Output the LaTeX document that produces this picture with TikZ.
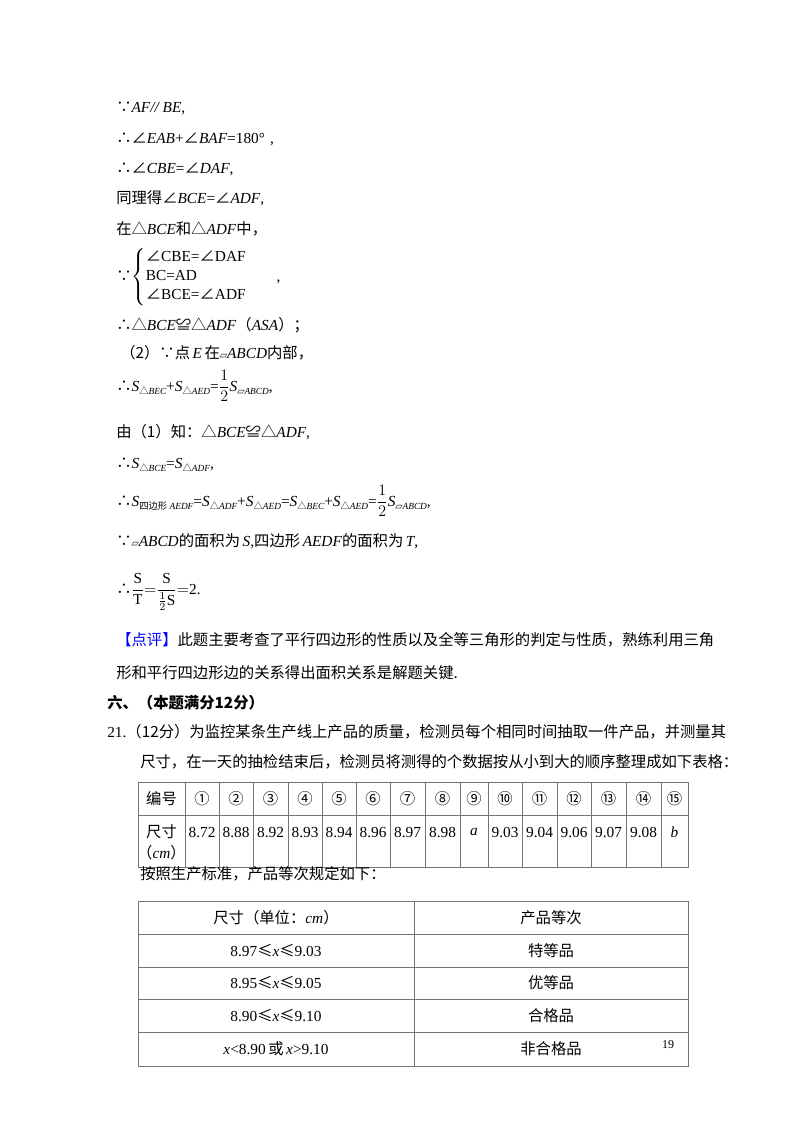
\documentclass[tikz,border=0pt]{standalone}
\usepackage{amsmath}
\usepackage{fontspec}
\setmainfont{Liberation Serif}
\newfontfamily\zhf{Noto Sans CJK SC}
\newfontfamily\dvf{DejaVu Sans}
\newcommand\zh[1]{{\zhf #1}}
\newcommand\pgram{{\dvf\scriptsize ▱}}
\newcommand\lw[1]{\raisebox{-0.5ex}{\scriptsize\itshape #1}}
\newcommand\tri{\zh{△}}
\begin{document}
\begin{tikzpicture}[x=0.75pt,y=-0.75pt,
  t/.style={anchor=base west,inner sep=0pt,font=\fontsize{11.5}{13}\selectfont},
  c/.style={anchor=center,inner sep=0pt,font=\fontsize{11.5}{13}\selectfont},
  grid/.style={draw=black!55,line width=0.6pt}]
\useasboundingbox (0,0) rectangle (800,1132);
\node[t] (l1) at (116,112) {\zh{∵}\textit{AF// BE},};
\node[t] (l2) at (116,143) {\zh{∴∠}\textit{EAB}+\zh{∠}\textit{BAF}=180°\,\,,};
\node[t] (l3) at (116,173) {\zh{∴∠}\textit{CBE}=\zh{∠}\textit{DAF},};
\node[t] (l4) at (116,203) {\zh{同理得∠}\textit{BCE}=\zh{∠}\textit{ADF},};
\node[t] (l5) at (116,234) {\zh{在△}\textit{BCE}\zh{和△}\textit{ADF}\zh{中，}};
\node[t] (l6) at (116,281) {\zh{∵}$\left\{\begin{array}{@{}l@{}}\mbox{\zh{∠}CBE=\zh{∠}DAF}\\[1pt]\mbox{BC=AD}\\[1pt]\mbox{\zh{∠}BCE=\zh{∠}ADF}\end{array}\right.$\hspace{22pt},};
\node[t] (l7) at (116,330) {\zh{∴△}\textit{BCE}\zh{≌△}\textit{ADF}\zh{（}\textit{ASA}\zh{）；}};
\node[t] (l8) at (120,358) {\zh{（2）∵点}\,\textit{E}\,\zh{在}\pgram\textit{ABCD}\zh{内部，}};
\node[t] (l9) at (116,391) {\zh{∴}\textit{S}\lw{\tri BEC}+\textit{S}\lw{\tri AED}=$\dfrac{1}{2}$\textit{S}\lw{\pgram ABCD},};
\node[t] (l10) at (116,437) {\zh{由（1）知：△}\textit{BCE}\zh{≌△}\textit{ADF},};
\node[t] (l11) at (116,468) {\zh{∴}\textit{S}\lw{\tri BCE}=\textit{S}\lw{\tri ADF},};
\node[t] (l12) at (116,506) {\zh{∴}\textit{S}\lw{\zh{四边形} AEDF}=\textit{S}\lw{\tri ADF}+\textit{S}\lw{\tri AED}=\textit{S}\lw{\tri BEC}+\textit{S}\lw{\tri AED}=$\dfrac{1}{2}$\textit{S}\lw{\pgram ABCD},};
\node[t] (l13) at (116,546) {\zh{∵}\pgram\textit{ABCD}\zh{的面积为}\,\textit{S},\zh{四边形}\,\textit{AEDF}\zh{的面积为}\,\textit{T},};
\node[t] (l14) at (116,594) {\zh{∴}$\dfrac{\mathrm{S}}{\mathrm{T}}{=}\dfrac{\mathrm{S}}{\frac{1}{2}\mathrm{S}}{=}$2.};
\node[t] (l15) at (116,645) {\textcolor{blue}{\zh{【点评】}}\zh{此题主要考查了平行四边形的性质以及全等三角形的判定与性质，熟练利用三角}};
\node[t] (l16) at (116,678) {\zh{形和平行四边形边的关系得出面积关系是解题关键.}};
\node[t] (l17) at (107,708) {\bfseries\zh{\bfseries 六、（本题满分12分）}};
\node[t] (l18) at (107,737) {21.\zh{（12分）为监控某条生产线上产品的质量，检测员每个相同时间抽取一件产品，并测量其}};
\node[t] (l19) at (140,767) {\zh{尺寸，在一天的抽检结束后，检测员将测得的个数据按从小到大的顺序整理成如下表格：}};
% table 1
\draw[grid] (138,782) rectangle (688,867);
\draw[grid] (138,815) -- (688,815);
\foreach \x in {185,219,253,288,322,356,390,425,460,488,522,557,591,626,661}
  \draw[grid] (\x,782) -- (\x,867);
\node[c] (h0) at (161.5,799) {\zh{编号}};
\foreach \i/\s/\e in {1/185/219,2/219/253,3/253/288,4/288/322,5/322/356,6/356/390,7/390/425,8/425/460,9/460/488,10/488/522,11/522/557,12/557/591,13/591/626,14/626/661,15/661/688}
  \node[c] (hh\i) at ({(\s+\e)/2},799) {\zh{\ifcase\i\or ①\or ②\or ③\or ④\or ⑤\or ⑥\or ⑦\or ⑧\or ⑨\or ⑩\or ⑪\or ⑫\or ⑬\or ⑭\or ⑮\fi}};
\node[c] (r0a) at (161.5,832) {\zh{尺寸}};
\node[c] (r0b) at (161.5,853) {\zh{（}\textit{cm}\zh{）}};
\foreach \i/\s/\e/\v in {1/185/219/8.72,2/219/253/8.88,3/253/288/8.92,4/288/322/8.93,5/322/356/8.94,6/356/390/8.96,7/390/425/8.97,8/425/460/8.98,9/460/488/\textit{a},10/488/522/9.03,11/522/557/9.04,12/557/591/9.06,13/591/626/9.07,14/626/661/9.08,15/661/688/\textit{b}}
  \node[c] (rv\i) at ({(\s+\e)/2},832) {\v};
\node[t] (l20) at (140,879) {\zh{按照生产标准，产品等次规定如下：}};
% table 2
\draw[grid] (138,901) rectangle (688,1066);
\draw[grid] (414,901) -- (414,1066);
\foreach \y in {934,967,999,1032} \draw[grid] (138,\y) -- (688,\y);
\node[c] (a1) at (276,917.5) {\zh{尺寸（单位：}\textit{cm}\zh{）}};
\node[c] (b1) at (551,917.5) {\zh{产品等次}};
\node[c] (a2) at (276,950.5) {8.97\zh{≤}\textit{x}\zh{≤}9.03};
\node[c] (b2) at (551,950.5) {\zh{特等品}};
\node[c] (a3) at (276,983) {8.95\zh{≤}\textit{x}\zh{≤}9.05};
\node[c] (b3) at (551,983) {\zh{优等品}};
\node[c] (a4) at (276,1015.5) {8.90\zh{≤}\textit{x}\zh{≤}9.10};
\node[c] (b4) at (551,1015.5) {\zh{合格品}};
\node[c] (a5) at (276,1049) {\textit{x}<8.90\,\zh{或}\,\textit{x}>9.10};
\node[c] (b5) at (551,1049) {\zh{非合格品}};
\node[c,font=\small] (pg) at (668,1045) {19};
\end{tikzpicture}
\end{document}
